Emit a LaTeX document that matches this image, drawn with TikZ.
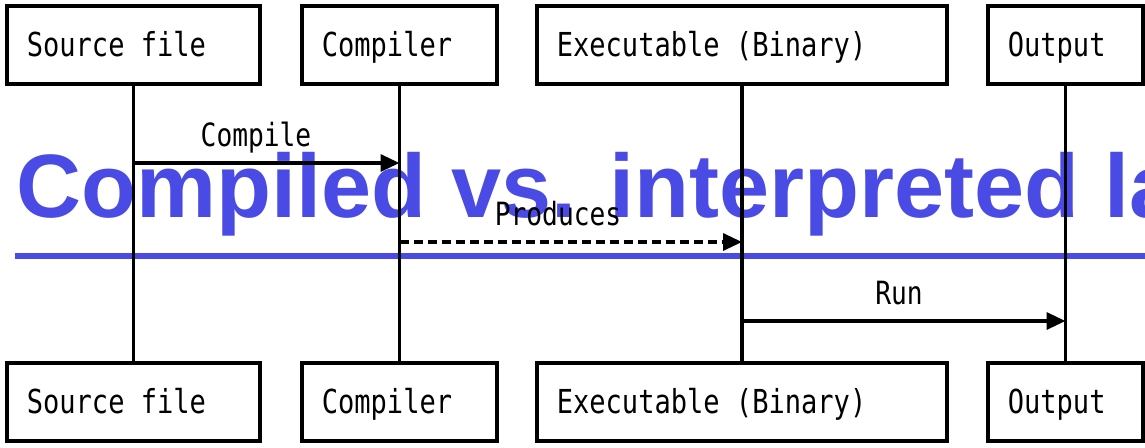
\documentclass[tikz,border=0pt]{standalone}
\usepackage{fontspec}
\usetikzlibrary{arrows.meta}
\setmainfont{Liberation Sans}
\newfontfamily\seqfont[FakeStretch=0.82]{DejaVu Sans Mono}
\definecolor{titleblue}{RGB}{74,74,229}

\tikzset{
  actorbox/.style={draw=black, line width=3.8pt, fill=white, minimum height=78pt, inner sep=0pt},
  actorlbl/.style={anchor=base west, inner sep=0pt, font=\seqfont\fontsize{33}{33}\selectfont},
  lifeline/.style={draw=black, line width=3.3pt},
  msg/.style={draw=black, line width=3.3pt, -{Triangle[length=19pt,width=17pt]}},
  reply/.style={msg, dash pattern=on 9pt off 5pt},
  msglbl/.style={anchor=base, inner sep=0pt, font=\seqfont\fontsize{32}{32}\selectfont},
  titletext/.style={anchor=base west, inner sep=0pt, text=titleblue,
    font=\fontsize{90}{90}\selectfont\bfseries},
  titlerule/.style={draw=titleblue, line width=5.5pt}
}

\begin{document}
\begin{tikzpicture}[x=1pt, y=-1pt]
\useasboundingbox (0,0) rectangle (1145,447);
\clip (0,0) rectangle (1145,447);

% heading and its rule
\node[titletext] (title) at (16,217) {Compiled vs. interpreted la};
\coordinate (ruleL) at (15,256);
\coordinate (ruleR) at (1145,256);
\draw[titlerule] (ruleL) -- (ruleR);

% participants, top row
\node[actorbox, minimum width=253pt] (srcT) at (133.5,45) {};
\node[actorbox, minimum width=195pt] (cmpT) at (399.5,45) {};
\node[actorbox, minimum width=410pt] (exeT) at (742,45) {};
\node[actorbox, minimum width=155pt] (outT) at (1065.5,45) {};
% participants, bottom row
\node[actorbox, minimum width=253pt] (srcB) at (133.5,402) {};
\node[actorbox, minimum width=195pt] (cmpB) at (399.5,402) {};
\node[actorbox, minimum width=410pt] (exeB) at (742,402) {};
\node[actorbox, minimum width=155pt] (outB) at (1065.5,402) {};

% participant names
\foreach \b/\t in {srcT/Source file, cmpT/Compiler, exeT/Executable (Binary), outT/Output,
                   srcB/Source file, cmpB/Compiler, exeB/Executable (Binary), outB/Output}
  \node[actorlbl] (\b-name) at ([xshift=21.5pt, yshift=-11.7pt]\b.west) {\t};

% lifelines
\draw[lifeline] (srcT.south) -- (srcB.north);
\draw[lifeline] (cmpT.south) -- (cmpB.north);
\draw[lifeline] (exeT.south) -- (exeB.north);
\draw[lifeline] (outT.south) -- (outB.north);

% message anchors on the lifelines
\coordinate (m1a) at (srcT.south |- 0,163);
\coordinate (m1b) at (cmpT.south |- 0,163);
\coordinate (m2a) at (cmpT.south |- 0,242);
\coordinate (m2b) at (exeT.south |- 0,242);
\coordinate (m3a) at (exeT.south |- 0,321);
\coordinate (m3b) at (outT.south |- 0,321);

% messages
\draw[msg] (m1a) -- (m1b);
\draw[reply] (m2a) -- (m2b);
\draw[msg] (m3a) -- (m3b);

% message labels
\node[msglbl] (m1lbl) at (256,146) {Compile};
\node[msglbl] (m2lbl) at (558,225) {Produces};
\node[msglbl] (m3lbl) at (899,304) {Run};
\end{tikzpicture}
\end{document}
